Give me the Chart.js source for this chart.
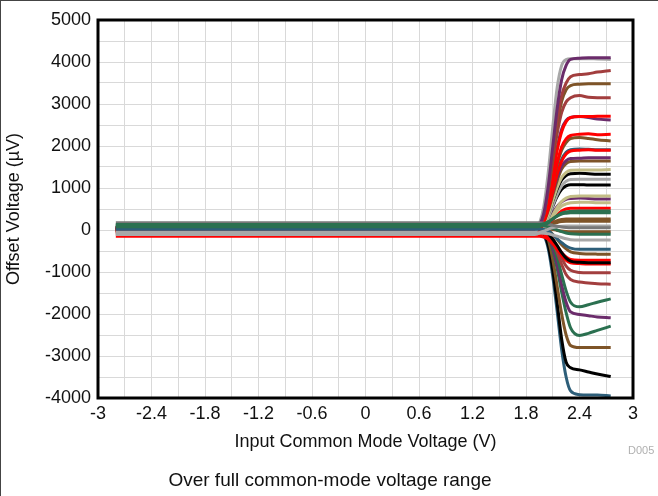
<!DOCTYPE html>
<html>
<head>
<meta charset="utf-8">
<script src="https://cdn.jsdelivr.net/npm/chart.js@4"></script>
<style>
  html, body { margin: 0; padding: 0; background: #fff; }
  #wrap { position: relative; width: 658px; height: 496px; box-sizing: border-box;
          border-top: 1px solid #444; border-left: 1px solid #444; overflow: hidden; }
  #chart { position: absolute; left: 0; top: 0; }
  .note { position: absolute; font-family: "Liberation Sans", Arial, sans-serif; white-space: nowrap; }
  #caption { left: 0; width: 658px; text-align: center; top: 468px; font-size: 19px; color: #111; }
  #code { left: 627px; top: 443px; font-size: 11px; color: #b0b0b0; }
</style>
</head>
<body>
<div id="wrap">
  <canvas id="chart" width="658" height="496"></canvas>
  <div id="caption" class="note">Over full common-mode voltage range</div>
  <div id="code" class="note">D005</div>
</div>
<script>
// Input common-mode voltage (V), shared by every unit
const vcm = [-2.8, 1.9, 1.95, 2.0, 2.05, 2.1, 2.15, 2.2, 2.25, 2.3, 2.4, 2.5, 2.6, 2.75];

// Offset voltage (uV) per unit
const unitColors = [];
const unitOffsets = [];
function unit(color, values) { unitColors.push(color); unitOffsets.push(values); }

const PURPLE = '#6B2C6B', DKRED = '#A23E3E', BROWN = '#7E5428', RED = '#FF0000',
      TEAL = '#2D5E79', GREEN = '#2B7050', BLACK = '#000000', GRAY = '#A8A8A8',
      KHAKI = '#C3BD86', DKGRAY = '#787878';

// these colours sit on top of the flat band at the left
const topColors = [DKGRAY, GREEN, TEAL, GRAY];

// rising units
unit(PURPLE, [40, 40, 110, 400, 1050, 1980, 2900, 3580, 3920, 4060, 4090, 4100, 4100, 4100]);
unit(GRAY,   [-50, -50, 150, 560, 1380, 2450, 3400, 3920, 4060, 4080, 4080, 4080, 4070, 4060]);
unit(DKRED,  [30, 30, 80, 380, 1000, 1850, 2600, 3200, 3500, 3650, 3700, 3720, 3760, 3800]);
unit(BROWN,  [30, 30, 100, 380, 950, 1740, 2500, 3060, 3340, 3440, 3470, 3480, 3480, 3480]);
unit(DKRED,  [40, 40, 110, 380, 950, 1640, 2300, 2800, 3050, 3150, 3200, 3160, 3150, 3150]);
unit(RED,    [-30, -30, 0, 220, 630, 1280, 1900, 2340, 2580, 2680, 2700, 2700, 2710, 2710]);
unit(PURPLE, [50, 50, 100, 320, 780, 1380, 1970, 2400, 2610, 2680, 2700, 2680, 2640, 2620]);
unit(RED,    [-40, -40, -10, 220, 590, 1100, 1600, 1980, 2170, 2250, 2280, 2290, 2270, 2280]);
unit(BROWN,  [40, 40, 90, 270, 620, 1100, 1560, 1900, 2080, 2180, 2200, 2180, 2150, 2120]);
unit(RED,    [-20, -20, 10, 190, 500, 910, 1330, 1640, 1810, 1880, 1900, 1910, 1900, 1900]);
unit(TEAL,   [-10, -10, 30, 210, 530, 950, 1360, 1680, 1850, 1910, 1930, 1920, 1910, 1910]);
unit(PURPLE, [60, 60, 100, 250, 540, 900, 1260, 1520, 1650, 1700, 1710, 1720, 1720, 1720]);
unit(BROWN,  [50, 50, 80, 210, 470, 830, 1180, 1450, 1580, 1630, 1640, 1640, 1640, 1640]);
unit(KHAKI,  [-20, -20, 10, 130, 370, 700, 1020, 1250, 1370, 1420, 1430, 1430, 1430, 1440]);
unit(BLACK,  [0, 0, 30, 150, 380, 690, 980, 1190, 1300, 1340, 1350, 1340, 1330, 1330]);
unit(GRAY,   [-110, -110, -70, 70, 290, 580, 850, 1050, 1160, 1200, 1210, 1210, 1210, 1210]);
unit(BLACK,  [10, 10, 30, 120, 300, 560, 800, 970, 1050, 1080, 1080, 1070, 1070, 1070]);
unit(KHAKI,  [-50, -50, -30, 40, 170, 360, 540, 680, 760, 800, 810, 810, 810, 810]);
unit(PURPLE, [50, 50, 60, 110, 240, 400, 560, 670, 730, 750, 760, 750, 740, 740]);
unit(KHAKI,  [-30, -30, -10, 50, 160, 320, 460, 570, 620, 650, 660, 660, 650, 650]);
unit(RED,    [0, 0, 20, 60, 140, 250, 360, 450, 500, 520, 520, 520, 520, 520]);
unit(GREEN,  [130, 130, 130, 150, 200, 270, 340, 400, 430, 440, 450, 450, 450, 450]);
unit(GREEN,  [80, 80, 85, 110, 170, 260, 330, 380, 400, 410, 410, 410, 410, 410]);
unit(BROWN,  [20, 20, 30, 60, 110, 170, 220, 250, 260, 260, 260, 260, 260, 260]);
unit(BROWN,  [60, 60, 65, 80, 110, 150, 180, 200, 210, 210, 210, 210, 210, 210]);
unit(DKGRAY, [170, 170, 170, 160, 140, 110, 90, 70, 60, 55, 55, 55, 55, 55]);
unit(GRAY,   [-80, -80, -65, -30, 20, 60, 80, 90, 95, 95, 95, 95, 95, 95]);

// falling units
unit(BROWN,  [50, 50, 50, 45, 30, 10, -10, -25, -35, -40, -40, -40, -40, -40]);
unit(GREEN,  [110, 110, 110, 100, 80, 40, 0, -40, -70, -90, -100, -100, -100, -100]);
unit(GRAY,   [-70, -70, -70, -75, -90, -120, -150, -180, -210, -230, -240, -240, -240, -240]);
unit(TEAL,   [20, 20, 20, 10, -20, -110, -210, -300, -380, -430, -460, -460, -460, -460]);
unit(BROWN,  [40, 40, 40, 25, -10, -100, -220, -350, -450, -520, -560, -570, -575, -580]);
unit(BLACK,  [-10, -10, -10, -30, -90, -220, -370, -540, -670, -740, -770, -780, -780, -780]);
unit(RED,    [-150, -150, -150, -170, -220, -330, -460, -610, -720, -780, -800, -810, -810, -810]);
unit(RED,    [-80, -80, -80, -100, -170, -290, -410, -540, -640, -700, -720, -720, -720, -720]);
unit(DKRED,  [60, 60, 60, 40, -30, -200, -430, -670, -860, -960, -1010, -1020, -1020, -1020]);
unit(DKRED,  [50, 50, 50, 30, -50, -270, -530, -820, -1060, -1180, -1240, -1260, -1280, -1290]);
unit(GREEN,  [100, 100, 100, 60, -50, -320, -660, -1060, -1450, -1720, -1830, -1780, -1720, -1640]);
unit(PURPLE, [40, 40, 40, 10, -90, -420, -830, -1310, -1720, -1950, -2010, -2040, -2070, -2090]);
unit(GREEN,  [60, 60, 60, 20, -110, -470, -930, -1480, -1970, -2330, -2510, -2460, -2390, -2290]);
unit(BROWN,  [30, 30, 30, -20, -230, -700, -1350, -2000, -2500, -2750, -2800, -2800, -2800, -2800]);
unit(BLACK,  [10, 10, 0, -80, -380, -950, -1750, -2600, -3150, -3280, -3330, -3380, -3430, -3490]);
unit(TEAL,   [-20, -20, -30, -120, -450, -1100, -1950, -2850, -3500, -3830, -3920, -3930, -3930, -3950]);

// axis ticks
const xMin = -3, xMax = 3, xStep = 0.3;
const yMin = -4000, yMax = 5000, yStep = 500;

const FONT = '"Liberation Sans", Arial, sans-serif';

const plotFrame = {
    id: 'plotFrame',
    afterDraw(chart) {
        const a = chart.chartArea;
        const ctx = chart.ctx;
        ctx.save();
        ctx.strokeStyle = '#000';
        ctx.lineWidth = 3;
        ctx.strokeRect(a.left, a.top, a.right - a.left, a.bottom - a.top);
        ctx.restore();
    }
};

// units that stay near zero are drawn over the others
function unitOrder(i) {
    const last = unitOffsets[i][unitOffsets[i].length - 1];
    return topColors.includes(unitColors[i]) && Math.abs(last) < 500 ? 0 : 1;
}

const datasets = unitOffsets.map((vals, i) => ({
    data: vals.map((v, j) => ({ x: vcm[j], y: v })),
    borderColor: unitColors[i],
    borderWidth: 3,
    pointRadius: 0,
    fill: false,
    cubicInterpolationMode: 'monotone',
    order: unitOrder(i)
}));

new Chart(document.getElementById('chart'), {
    type: 'line',
    data: { datasets: datasets },
    plugins: [plotFrame],
    options: {
        responsive: false,
        animation: false,
        layout: { padding: { left: 0, right: 26, top: 19, bottom: 44 } },
        plugins: { legend: { display: false }, tooltip: { enabled: false } },
        scales: {
            x: {
                type: 'linear',
                min: xMin, max: xMax,
                afterFit: s => { s.height = 55; },
                ticks: {
                    stepSize: xStep,
                    autoSkip: false,
                    maxRotation: 0,
                    padding: 5,
                    color: '#111',
                    font: { family: FONT, size: 18 },
                    callback: (v, i) => i % 2 === 0 ? String(Math.round(v * 10) / 10) : ''
                },
                grid: { color: '#d9d9d9', lineWidth: 1, drawTicks: false },
                border: { display: false },
                title: { display: true, text: 'Input Common Mode Voltage (V)', color: '#111',
                         font: { family: FONT, size: 18 }, padding: { top: 0, bottom: 0 } }
            },
            y: {
                type: 'linear',
                min: yMin, max: yMax,
                afterFit: s => { s.width = 97; },
                ticks: {
                    stepSize: yStep,
                    autoSkip: false,
                    padding: 7,
                    color: '#111',
                    font: { family: FONT, size: 18 },
                    callback: v => v % 1000 === 0 ? String(v) : ''
                },
                grid: { color: '#d9d9d9', lineWidth: 1, drawTicks: false },
                border: { display: false },
                title: { display: true, text: 'Offset Voltage (µV)', color: '#111',
                         font: { family: FONT, size: 18 }, padding: { top: 2, bottom: 0 } }
            }
        }
    }
});
</script>
</body>
</html>
